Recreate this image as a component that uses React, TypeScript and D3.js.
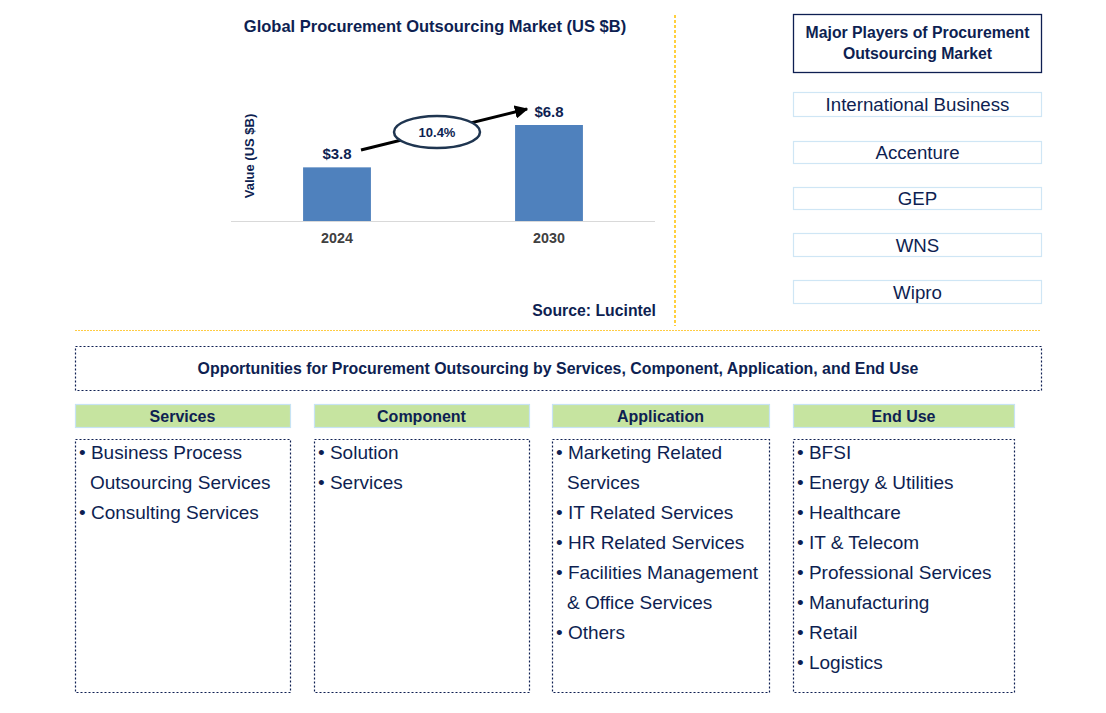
import React from "react";
import * as d3 from "d3";

const years = ["2024", "2030"];
const values = [3.8, 6.8];
const valueLabels = ["$3.8", "$6.8"];
const cagrLabel = "10.4%";
const chartTitle = "Global Procurement Outsourcing Market (US $B)";
const yAxisTitle = "Value (US $B)";
const sourceText = "Source: Lucintel";
const playersTitle = ["Major Players of Procurement", "Outsourcing Market"];
const players = ["International Business", "Accenture", "GEP", "WNS", "Wipro"];
const oppTitle = "Opportunities for Procurement Outsourcing by Services, Component, Application, and End Use";
const segments = ["Services", "Component", "Application", "End Use"];
const segmentItems: string[][][] = [
  [["Business Process", "Outsourcing Services"], ["Consulting Services"]],
  [["Solution"], ["Services"]],
  [["Marketing Related", "Services"], ["IT Related Services"], ["HR Related Services"], ["Facilities Management", "& Office Services"], ["Others"]],
  [["BFSI"], ["Energy & Utilities"], ["Healthcare"], ["IT & Telecom"], ["Professional Services"], ["Manufacturing"], ["Retail"], ["Logistics"]],
];

const NAVY = "#0e1f52";
const FONT = "'Liberation Sans', Arial, sans-serif";

export default function App() {
  const baseY = 221;
  const x = d3.scaleBand<string>().domain(years).range([231, 655]).paddingInner(0.68).paddingOuter(0.34);
  const y = d3.scaleLinear().domain([0, 6.8]).range([baseY, 125]);

  const playerYs = [92, 141, 187, 233, 280];
  const playerH = [24, 22, 22, 23, 23];
  const segX = [75, 314, 552, 793];
  const segW = [215, 215, 217, 221];

  const p1 = { x: 361, y: 150 };
  const p2 = { x: 527, y: 109 };

  return (
    <svg width={1090} height={700} style={{ display: "block", fontFamily: FONT }} viewBox="8 8 1090 700">
      <defs>
        <marker id="ah" viewBox="0 0 10 10" refX="9" refY="5" markerWidth="4.5" markerHeight="4.5" orient="auto">
          <path d="M0,0 L10,5 L0,10 z" fill="#000" />
        </marker>
      </defs>
      <rect x={8} y={8} width={1090} height={700} fill="#fff" />
      {/* Chart */}
      <text x={435} y={32} textAnchor="middle" fontSize={16.5} fontWeight="bold" fill={NAVY}>{chartTitle}</text>
      <text transform={`translate(254,156) rotate(-90)`} textAnchor="middle" fontSize={13} fontWeight="bold" fill={NAVY}>{yAxisTitle}</text>
      {years.map((yr, i) => (
        <g key={yr}>
          <rect x={x(yr)} y={y(values[i])} width={x.bandwidth()} height={baseY - y(values[i])} fill="#4f81bd" />
          <text x={x(yr)! + x.bandwidth() / 2} y={y(values[i]) - 8} textAnchor="middle" fontSize={15} fontWeight="bold" fill={NAVY}>{valueLabels[i]}</text>
          <text x={x(yr)! + x.bandwidth() / 2} y={baseY + 22} textAnchor="middle" fontSize={14.3} fontWeight="bold" fill="#404040">{yr}</text>
        </g>
      ))}
      <line x1={231} x2={655} y1={baseY + 0.5} y2={baseY + 0.5} stroke="#d9d9d9" strokeWidth={1} />
      <line x1={p1.x} y1={p1.y} x2={p2.x} y2={p2.y} stroke="#000" strokeWidth={3} markerEnd="url(#ah)" />
      <ellipse cx={437} cy={132} rx={43} ry={16} fill="#fff" stroke="#1f3550" strokeWidth={2.5} />
      <text x={437} y={136.5} textAnchor="middle" fontSize={13} fontWeight="bold" fill={NAVY}>{cagrLabel}</text>
      <text x={656} y={316} textAnchor="end" fontSize={15.8} fontWeight="bold" fill={NAVY}>{sourceText}</text>

      {/* separators */}
      <line x1={675} x2={675} y1={15} y2={326} stroke="#ffc000" strokeWidth={1.5} strokeDasharray="3,2" />
      <line x1={75} x2={1041} y1={330.5} y2={330.5} stroke="#ffcc44" strokeWidth={1} strokeDasharray="2,1" />

      {/* Players */}
      <rect x={793.5} y={14.5} width={248} height={58} fill="#fff" stroke={NAVY} strokeWidth={1.3} />
      {playersTitle.map((t, i) => (
        <text key={t} x={917.5} y={37.5 + i * 21} textAnchor="middle" fontSize={15.8} fontWeight="bold" fill={NAVY}>{t}</text>
      ))}
      {players.map((p, i) => (
        <g key={p}>
          <rect x={793.5} y={playerYs[i] + 0.5} width={248} height={playerH[i]} fill="#fff" stroke="#cfe6f5" strokeWidth={1.2} />
          <text x={917.5} y={playerYs[i] + playerH[i] / 2 + 7} textAnchor="middle" fontSize={18.7} fill={NAVY}>{p}</text>
        </g>
      ))}

      {/* Opportunities */}
      <rect x={75.5} y={346.5} width={966} height={44} fill="#fff" stroke={NAVY} strokeWidth={1.2} strokeDasharray="2,2" />
      <text x={558} y={374} textAnchor="middle" fontSize={15.9} fontWeight="bold" fill={NAVY}>{oppTitle}</text>

      {segments.map((s, i) => {
        const lines: { t: string; bullet: boolean }[] = [];
        segmentItems[i].forEach((it) => it.forEach((t, k) => lines.push({ t, bullet: k === 0 })));
        return (
          <g key={s}>
            <rect x={segX[i] + 0.5} y={404.5} width={segW[i]} height={23} fill="#c6e4a0" stroke="#c7e3f4" strokeWidth={1.2} />
            <text x={segX[i] + segW[i] / 2} y={421.5} textAnchor="middle" fontSize={16} fontWeight="bold" fill={NAVY}>{s}</text>
            <rect x={segX[i] + 0.5} y={439.5} width={segW[i]} height={253} fill="#fff" stroke={NAVY} strokeWidth={1.2} strokeDasharray="2,2" />
            {lines.map((l, j) => (
              <text key={j} x={segX[i] + (l.bullet ? 4 : 15)} y={459 + j * 30} fontSize={19} fill={NAVY}>
                {l.bullet ? "• " + l.t : l.t}
              </text>
            ))}
          </g>
        );
      })}
    </svg>
  );
}
